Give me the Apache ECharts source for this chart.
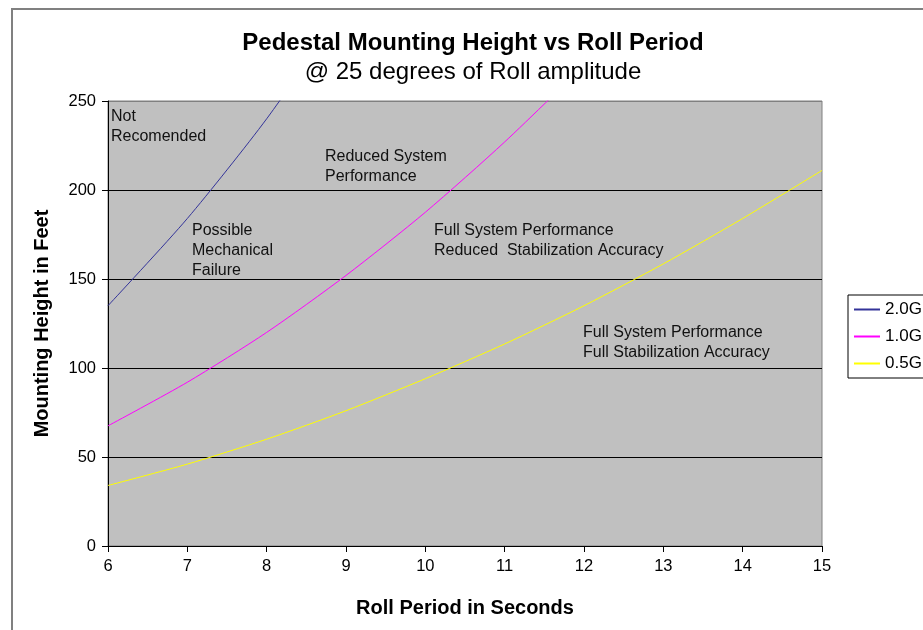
<!DOCTYPE html>
<html><head><meta charset="utf-8">
<script src="https://cdn.jsdelivr.net/npm/echarts@6/dist/echarts.min.js"></script>
<style>html,body{margin:0;padding:0;background:#fff}#c{width:923px;height:630px}</style>
</head><body><div id="c"></div>
<script>
const periods = [6, 7, 8, 9, 10, 11, 12, 13, 14, 15];
const g20 = [135, 184, 240, 304];
const g10 = [67.5, 92, 120, 152, 187.5, 227, 270];
const g05 = [34, 46, 60, 76, 94, 113.5, 135, 158.5, 184, 211];
const seriesNames = ['2.0G', '1.0G', '0.5G'];
const yTicks = [0, 50, 100, 150, 200, 250];
const notes = [
  {text: 'Not\nRecomended', x: 111, y: 107},
  {text: 'Reduced System\nPerformance', x: 325, y: 147},
  {text: 'Possible\nMechanical\nFailure', x: 192, y: 221},
  {text: 'Full System Performance\nReduced  Stabilization Accuracy', x: 434, y: 221},
  {text: 'Full System Performance\nFull Stabilization Accuracy', x: 583, y: 323}
];
const colors = ['#333399', '#ff00ff', '#ffff00'];
const font = 'Liberation Sans, Arial, sans-serif';
function pairs(vals){ return vals.map((v,i)=>[periods[i], v]); }
const chart = echarts.init(document.getElementById('c'));
chart.setOption({
  animation: false,
  textStyle: {fontFamily: font},
  title: {
    text: 'Pedestal Mounting Height vs Roll Period',
    subtext: '@ 25 degrees of Roll amplitude',
    left: 468, textAlign: 'center', top: 26, itemGap: 5,
    textStyle: {fontFamily: font, fontSize: 24, fontWeight: 'bold', color: '#000'},
    subtextStyle: {fontFamily: font, fontSize: 24, color: '#000'}
  },
  legend: {
    left: 848, top: 295, orient: 'vertical',
    borderColor: '#000', borderWidth: 1, padding: [6, 20, 6, 6],
    itemWidth: 26, itemHeight: 2, itemGap: 10, icon: 'rect',
    textStyle: {fontFamily: font, fontSize: 17, color: '#000', lineHeight: 17},
    data: seriesNames
  },
  grid: {left: 108, right: 101, top: 101, bottom: 84, show: true, backgroundColor: '#c0c0c0', borderColor: '#808080', borderWidth: 1},
  xAxis: {
    type: 'value', min: 6, max: 15, interval: 1,
    name: 'Roll Period in Seconds', nameLocation: 'middle', nameGap: 52,
    nameTextStyle: {fontFamily: font, fontSize: 20, fontWeight: 'bold', color: '#000'},
    axisLine: {lineStyle: {color: '#000', width: 1}},
    axisTick: {show: true, length: 6, lineStyle: {color: '#000'}},
    axisLabel: {fontFamily: font, fontSize: 16.5, color: '#000', margin: 12},
    splitLine: {show: false}
  },
  yAxis: {
    type: 'value', min: yTicks[0], max: yTicks[yTicks.length-1], interval: 50,
    name: 'Mounting Height in Feet', nameLocation: 'middle', nameGap: 56,
    nameTextStyle: {fontFamily: font, fontSize: 20, fontWeight: 'bold', color: '#000'},
    axisLine: {show: true, lineStyle: {color: '#000', width: 1}},
    axisTick: {show: true, length: 6, inside: false, lineStyle: {color: '#000'}},
    axisLabel: {fontFamily: font, fontSize: 16.5, color: '#000', margin: 12},
    splitLine: {show: true, lineStyle: {color: ['#000','#000','#000','#000','#000','#808080'], width: 1}}
  },
  graphic: [
    {type: 'rect', shape: {x: 12, y: 9, width: 960, height: 660}, style: {fill: 'none', stroke: '#808080', lineWidth: 2}, z: 100, silent: true}
  ].concat(notes.map(n => ({
    type: 'text', left: n.x, top: n.y, z: 50,
    style: {text: n.text, font: '16px ' + font, fill: '#111', lineHeight: 20}
  }))),
  series: [
    {name: seriesNames[0], type: 'line', data: pairs(g20), smooth: 0.25, showSymbol: false, clip: true, lineStyle: {color: colors[0], width: 1}, itemStyle: {color: colors[0]}},
    {name: seriesNames[1], type: 'line', data: pairs(g10), smooth: 0.25, showSymbol: false, clip: true, lineStyle: {color: colors[1], width: 1}, itemStyle: {color: colors[1]}},
    {name: seriesNames[2], type: 'line', data: pairs(g05), smooth: 0.25, showSymbol: false, clip: true, lineStyle: {color: colors[2], width: 1}, itemStyle: {color: colors[2]}}
  ]
});
</script></body></html>
